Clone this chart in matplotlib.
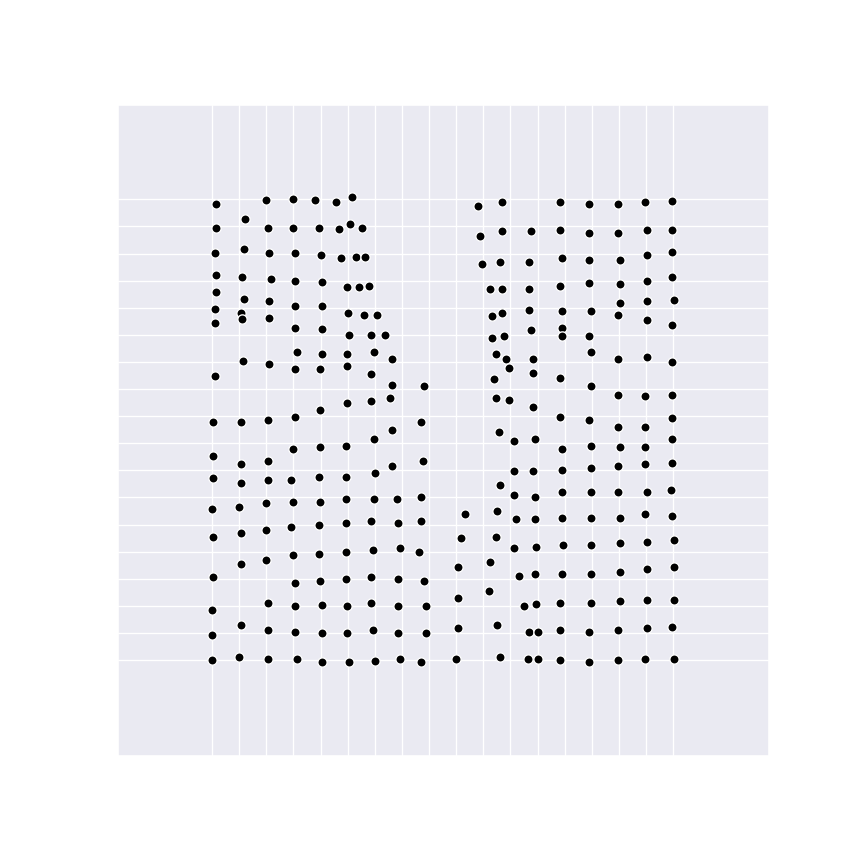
import matplotlib
matplotlib.use("Agg")
import matplotlib.pyplot as plt
import seaborn as sns

sns.set_theme(style="darkgrid")

# Left block of points
left_x = [0.16, 1.99, 3.0, 3.8, 4.57, 5.17,
          1.23,
          0.16, 2.05, 3.0, 3.93, 4.69, 5.1, 5.53,
          0.1, 1.16, 2.11, 3.05, 4.0, 4.75, 5.3, 5.62,
          0.16, 1.1, 2.17, 3.05, 4.05, 4.99, 5.43, 5.8,
          0.16, 1.16, 2.11, 3.05, 4.05, 5.0, 5.6, 6.06,
          0.1, 1.05, 1.1, 2.11, 0.1, 3.05, 4.05, 5.04, 5.87, 6.37,
          3.12, 4.06, 4.99, 1.12, 2.11, 3.05, 3.99, 4.99, 0.11, 4.99, 3.99,
          0.05, 1.06, 2.05, 3.05, 0.05, 1.06, 2.05, 2.99, 3.99, 4.93,
          0.05, 1.06, 2.05, 2.92, 3.93, 4.93, -0.01, 0.98, 1.99, 2.99, 3.99, 4.93,
          5.95, 6.63, 5.87, 6.63, 7.82, 5.87, 6.56, 7.7, 6.63, 5.95, 7.76, 6.63,
          6.0, 5.95, 6.81, 7.7,
          0.05, 1.06, 1.99, 2.92, 3.93, 4.93, 1.06, 1.99, 2.99, 3.93, 4.93,
          0.05, 3.05, 3.99, 4.93, -0.01, 2.05, 3.05, 4.05, 4.99,
          -0.01, 1.06, 2.05, 3.05, 4.05, 4.99, -0.01, 0.98, 2.05, 3.12, 4.05, 5.05,
          5.87, 6.87, 7.7, 5.93, 6.93, 7.63, 5.87, 6.87, 7.82, 5.87, 6.87, 7.88,
          5.93, 6.87, 7.88, 6.0, 6.93, 7.7]
left_y = [16.83, 16.96, 17.02, 16.96, 16.9, 17.09,
          16.27,
          15.95, 15.95, 15.95, 15.95, 15.89, 16.09, 15.95,
          15.01, 15.15, 15.01, 15.01, 14.95, 14.83, 14.88, 14.88,
          14.2, 14.14, 14.07, 14.0, 13.94, 13.75, 13.75, 13.81,
          13.57, 13.32, 13.26, 13.06, 13.07, 12.81, 12.75, 12.75,
          12.94, 12.81, 12.57, 12.62, 12.44, 12.25, 12.2, 12.01, 12.0, 12.0,
          11.36, 11.31, 11.31, 11.05, 10.93, 10.73, 10.73, 10.85, 10.48, 9.47, 9.23,
          8.78, 8.78, 8.86, 8.98, 7.54, 7.22, 7.34, 7.79, 7.85, 7.91,
          6.71, 6.53, 6.65, 6.65, 6.77, 6.77, 5.59, 5.65, 5.78, 5.84, 5.84, 5.96,
          11.36, 11.11, 10.54, 10.16, 10.1, 9.55, 9.67, 8.78, 8.47, 8.16, 7.34, 7.16,
          6.91, 5.96, 5.96, 6.02,
          4.54, 4.68, 4.8, 4.92, 4.98, 5.04, 3.54, 3.68, 3.86, 3.92, 3.99,
          3.05, 2.85, 2.92, 2.99, 1.86, 2.1, 1.98, 2.04, 1.98,
          0.92, 1.29, 1.11, 1.04, 0.98, 0.98, -0.01, 0.1, 0.04, 0.04, -0.08, -0.08,
          5.13, 5.07, 5.13, 4.06, 4.12, 4.0, 3.05, 2.99, 2.93, 2.11, 1.99, 1.99,
          1.11, 0.98, 0.98, -0.02, 0.05, -0.07]

# Right block of points
right_x = [9.82, 10.69, 9.88, 10.69, 9.94, 10.63, 10.25, 10.69, 10.31, 10.69, 10.31, 10.76,
           12.83, 13.9, 14.96, 15.97, 16.96,
           11.75, 12.83, 13.9, 14.96, 16.03, 16.96,
           11.69, 12.89, 13.9, 15.02, 16.03, 16.96,
           11.69, 12.83, 13.9, 15.02, 16.03, 16.96,
           15.02, 16.03, 17.02,
           11.69, 12.89, 13.96, 14.96, 16.03, 16.96,
           11.75, 12.89, 12.89, 13.9,
           10.45, 10.83, 10.95, 10.39, 10.45, 10.95, 10.57, 11.14, 11.14, 10.63, 11.14,
           11.84, 13.96, 14.96, 16.03, 16.96,
           11.84, 12.83, 13.96, 14.96, 15.97, 16.96,
           11.84, 12.83, 13.9, 14.96, 15.97, 16.96,
           11.9, 12.89, 13.96, 15.02, 15.97, 16.96,
           11.84, 12.89, 13.96, 14.96, 15.97, 16.96,
           11.9, 12.89, 13.96, 14.96, 16.03, 16.9,
           9.33, 10.51, 11.2, 9.18, 10.45, 11.14, 9.06, 10.25, 11.32, 9.06, 10.19,
           9.06, 10.51, 9.0, 10.63,
           11.9, 12.89, 13.96, 15.02, 15.97, 16.96,
           11.95, 12.95, 13.96, 15.02, 16.03, 17.02,
           11.9, 12.89, 13.96, 15.02, 16.03, 17.02,
           11.51, 11.95, 12.83, 13.96, 15.02, 16.03, 17.02,
           11.69, 12.02, 12.83, 13.9, 14.96, 16.03, 16.96,
           11.63, 12.02, 12.83, 13.9, 14.96, 15.97, 17.02]
right_y = [16.75, 16.89, 15.63, 15.82, 14.62, 14.68, 13.68, 13.68, 12.69, 12.81, 11.87, 11.94,
           16.89, 16.83, 16.83, 16.89, 16.95,
           15.82, 15.88, 15.75, 15.75, 15.88, 15.88,
           14.68, 14.82, 14.75, 14.75, 14.94, 15.07,
           13.68, 13.81, 13.93, 13.87, 13.99, 14.13,
           13.18, 13.24, 13.3,
           12.93, 12.87, 12.87, 12.75, 12.55, 12.37,
           12.18, 12.24, 11.94, 11.94,
           11.3, 11.11, 10.79, 10.36, 9.67, 9.61, 8.41, 8.09, 6.97, 6.47, 6.1,
           11.11, 11.36, 11.11, 11.17, 10.99,
           10.61, 10.42, 10.1, 9.79, 9.73, 9.79,
           9.35, 8.98, 8.84, 8.6, 8.6, 8.92,
           8.16, 7.79, 7.91, 7.85, 7.85, 8.16,
           6.97, 7.03, 7.1, 7.16, 7.22, 7.28,
           6.02, 6.21, 6.21, 6.21, 6.21, 6.27,
           5.38, 5.5, 5.19, 4.49, 4.55, 4.12, 3.42, 3.6, 3.11, 2.3, 2.55,
           1.17, 1.29, 0.05, 0.11,
           5.19, 5.25, 5.25, 5.25, 5.38, 5.31,
           4.18, 4.24, 4.24, 4.31, 4.37, 4.43,
           3.17, 3.17, 3.17, 3.24, 3.37, 3.43,
           1.99, 2.06, 2.11, 2.11, 2.18, 2.2, 2.2,
           1.04, 1.04, 1.11, 1.04, 1.11, 1.17, 1.23,
           0.05, 0.05, -0.01, -0.07, -0.01, 0.05, 0.05]

ticks = list(range(18))

fig = plt.figure(figsize=(9, 9), dpi=96)
ax = fig.add_axes([118 / 864, 108 / 864, 651 / 864, 651 / 864])

ax.scatter(left_x + right_x, left_y + right_y, s=48, c="black",
           edgecolors="white", linewidths=1.0, zorder=3)

ax.set_xticks(ticks)
ax.set_yticks(ticks)
ax.set_xticklabels([])
ax.set_yticklabels([])
ax.tick_params(length=0)
ax.set_xlim(-3.47, 20.53)
ax.set_ylim(-3.54, 20.48)

fig.savefig("out.png", dpi=96)
